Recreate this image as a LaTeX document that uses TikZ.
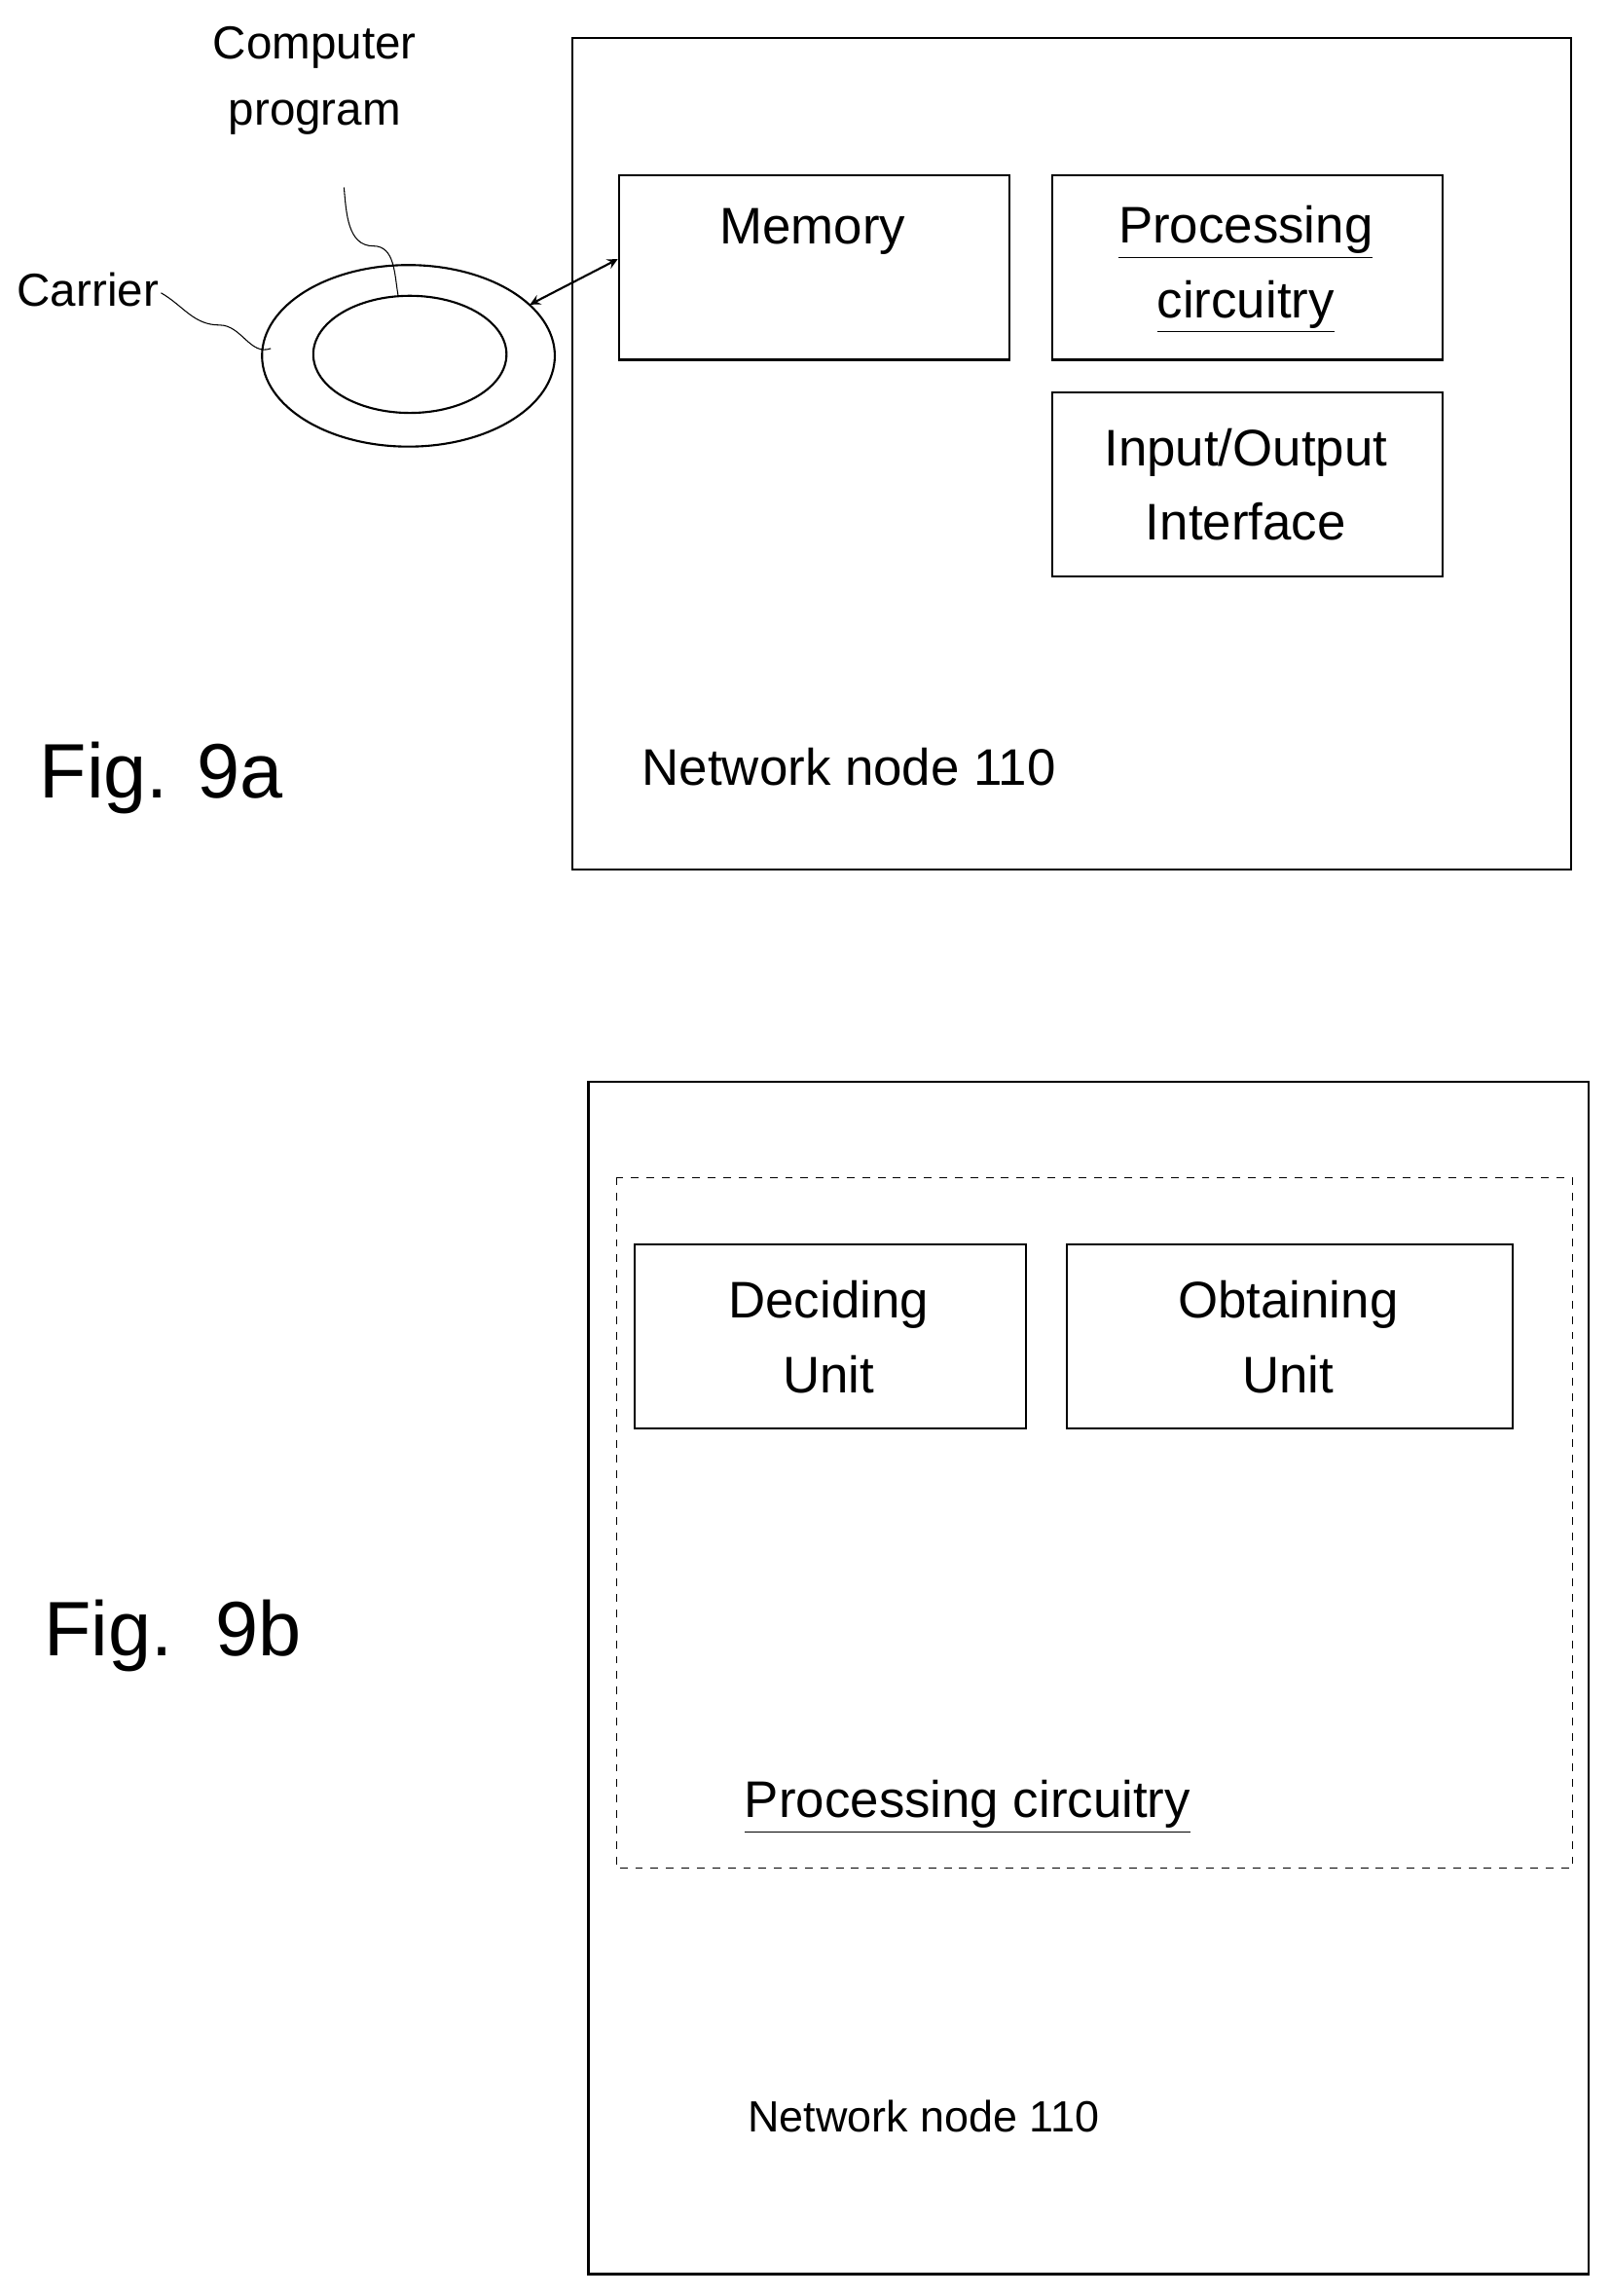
\documentclass[tikz,border=0pt]{standalone}
\usepackage{fontspec}
\setmainfont{Liberation Sans}
\usepackage{tikz}
\tikzset{box/.style={draw,thick,minimum width=5.34cm,minimum height=2.52cm,anchor=north west,align=center},
  lbl/.style={font=\fontsize{20}{29}\selectfont,align=center}}
\newcommand{\ul}[1]{\underline{#1}}

\begin{document}
\begin{tikzpicture}[x=0.02cm,y=-0.02cm,thick]
    \useasboundingbox (0,0) rectangle (1100,1568);
    % Fig. 9a
    \draw (391,26) rectangle (1073,594);
    \node [box] (mem) at (422,119) {};
    \node [lbl] (memt) at (555,158) {Memory};
    \node [box] (proc) at (718,119) {};
    \node [lbl] (proct) at (851,184) {\ul{Processing}\\\ul{circuitry}};
    \node [box] (io) at (718,267) {};
    \node [lbl] (iot) at (851,331) {Input/Output\\Interface};
    \node [lbl] (nn1) at (580,524) {Network node 110};
    \node [font=\fontsize{30}{36}\selectfont] (fa) at (110,531) {Fig. 9a};

    \draw (279,243) ellipse (100 and 62);
    \draw (280,242) ellipse (66 and 40);
    \coordinate (disk) at (362,208);
    \draw [<->,>=stealth] (disk) -- (mem.west |- 0,177);
    \node [font=\fontsize{18}{26}\selectfont] (car) at (60,198) {Carrier};
    \draw [thin] (110,200) to [out=-30,in=180] (150,222) to [out=0,in=200] (185,238);
    \node [font=\fontsize{18}{26}\selectfont,align=center] (cp) at (215,55) {Computer\\program};
    \draw [thin] (235,128) to [out=-85,in=180] (255,168) to [out=0,in=100] (272,202);

    % Fig. 9b
    \draw (402,739) rectangle (1085,1553);
    \draw [dashed,thin] (421,804) rectangle (1074,1276);
    \node [box] (dec) at (433,849) {};
    \node [lbl] (dect) at (566,913) {Deciding\\Unit};
    \node [box,minimum width=6.1cm] (obt) at (728,849) {};
    \node [lbl] (obtt) at (880,913) {Obtaining\\Unit};
    \node [lbl] (pc) at (661,1234) {\ul{Processing circuitry}};
    \node [font=\fontsize{17}{24}\selectfont] (nn2) at (631,1445) {Network node 110};
    \node [font=\fontsize{30}{36}\selectfont] (fb) at (118,1117) {Fig.~~9b};
\end{tikzpicture}
\end{document}
